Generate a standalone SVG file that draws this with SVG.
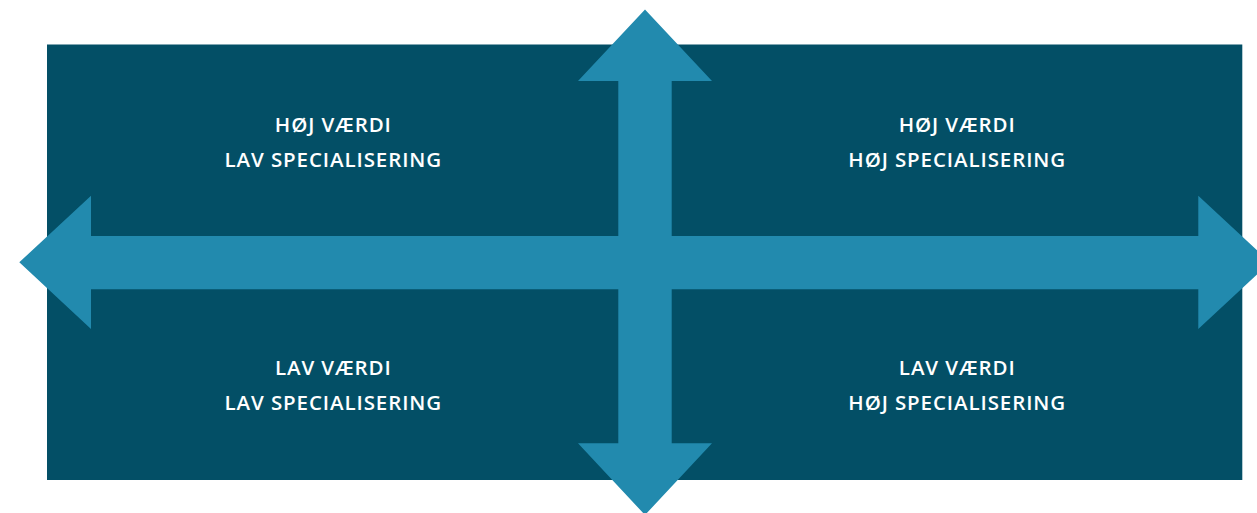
<svg xmlns="http://www.w3.org/2000/svg" width="1257" height="513" viewBox="0 0 1257 513">
<style>
.bg{fill:#034f66}
.arrow{fill:#228aae}
.lbl{font-family:"Open Sans","Noto Sans",sans-serif;font-weight:600;font-size:20.5px;letter-spacing:0.9px;fill:#ffffff;text-anchor:middle}
</style>
<rect width="1257" height="513" fill="#ffffff"/>
<rect class="bg" x="47" y="44.5" width="1195.3" height="435.5"/>
<g id="connectors">
<polygon class="arrow" points="645,9.5 712,81 671.7,81 671.7,236 1198.3,236 1198.3,195.7 1270,262.3 1198.3,329 1198.3,289.3 671.7,289.3 671.7,443.3 712,443.3 645,515 578,443.3 618.3,443.3 618.3,289.3 91,289.3 91,329 19.3,262.3 91,195.7 91,236 618.3,236 618.3,81 578,81"/>
</g>
<g id="q1"><text class="lbl" x="333.3" y="131.7">HØJ VÆRDI</text><text class="lbl" x="333.3" y="166.7">LAV SPECIALISERING</text></g>
<g id="q2"><text class="lbl" x="957.2" y="131.7">HØJ VÆRDI</text><text class="lbl" x="957.2" y="166.7">HØJ SPECIALISERING</text></g>
<g id="q3"><text class="lbl" x="333.3" y="374.7">LAV VÆRDI</text><text class="lbl" x="333.3" y="409.7">LAV SPECIALISERING</text></g>
<g id="q4"><text class="lbl" x="957.2" y="374.7">LAV VÆRDI</text><text class="lbl" x="957.2" y="409.7">HØJ SPECIALISERING</text></g>
</svg>
